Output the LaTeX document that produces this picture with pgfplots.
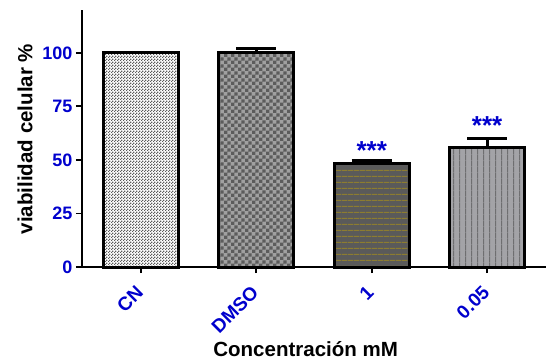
\documentclass[border=0pt]{standalone}
\usepackage{pgfplots}
\pgfplotsset{compat=1.18}
\usepackage{fontspec}
\setmainfont{Liberation Sans}
\usetikzlibrary{patterns}
\definecolor{tickblue}{RGB}{0,0,205}
\definecolor{chkdark}{RGB}{92,92,92}
\definecolor{chklight}{RGB}{160,160,160}
\definecolor{darkfill}{RGB}{90,90,90}
\definecolor{olive1}{RGB}{140,124,48}
\definecolor{lightfill}{RGB}{163,163,167}
\definecolor{vline}{RGB}{110,110,112}
\pgfdeclarepatternformonly{smallchecker}{\pgfpointorigin}{\pgfpoint{2.7pt}{2.7pt}}{\pgfpoint{2.7pt}{2.7pt}}{%
  \pgfpathrectangle{\pgfpointorigin}{\pgfpoint{1.35pt}{1.35pt}}%
  \pgfpathrectangle{\pgfpoint{1.35pt}{1.35pt}}{\pgfpoint{1.35pt}{1.35pt}}%
  \pgfusepath{fill}}
\pgfdeclarepatternformonly{bigchecker}{\pgfpointorigin}{\pgfpoint{6.8pt}{6.8pt}}{\pgfpoint{6.8pt}{6.8pt}}{%
  \pgfpathrectangle{\pgfpointorigin}{\pgfpoint{3.4pt}{3.4pt}}%
  \pgfpathrectangle{\pgfpoint{3.4pt}{3.4pt}}{\pgfpoint{3.4pt}{3.4pt}}%
  \pgfusepath{fill}}
\pgfdeclarepatternformonly{hlinesp}{\pgfpointorigin}{\pgfpoint{5.6pt}{5.6pt}}{\pgfpoint{5.6pt}{5.6pt}}{%
  \pgfpathrectangle{\pgfpointorigin}{\pgfpoint{5.6pt}{1.1pt}}%
  \pgfusepath{fill}}
\pgfdeclarepatternformonly{vlinesp}{\pgfpointorigin}{\pgfpoint{6.3pt}{6.3pt}}{\pgfpoint{6.3pt}{6.3pt}}{%
  \pgfpathrectangle{\pgfpointorigin}{\pgfpoint{1.3pt}{6.3pt}}%
  \pgfusepath{fill}}
\begin{document}
\begin{tikzpicture}
\begin{axis}[
  scale only axis,
  width=464pt, height=257pt,
  xmin=-0.51, xmax=3.51,
  ymin=0, ymax=120,
  axis x line*=bottom, axis y line*=left,
  axis line style={line width=2pt, black},
  ybar,
  bar width=75pt,
  xtick={0,1,2,3},
  xticklabels={CN,DMSO,1,0.05},
  ytick={0,25,50,75,100},
  tick style={line width=1.8pt, black},
  major tick length=6pt,
  tick align=outside,
  /pgf/number format/assume math mode=true,
  yticklabel style={font=\fontsize{18}{18}\selectfont\bfseries, text=tickblue},
  xticklabel style={font=\fontsize{19}{19}\selectfont\bfseries, text=tickblue, xshift=-6pt, yshift=-6.5pt, rotate=45, anchor=north east},
  ylabel={viabilidad celular \%},
  xlabel={Concentración mM},
  label style={font=\fontsize{20.5}{24}\selectfont\bfseries},
  ylabel style={at={(axis description cs:-0.123,0.498)}, anchor=center, rotate=0},
  xlabel style={at={(axis description cs:0.482,-0.319)}, anchor=center},
  clip=false,
  error bars/y dir=plus,
  error bars/y explicit,
  error bars/error mark options={rotate=90, mark size=20pt, line width=3pt, black},
  error bars/error bar style={line width=3pt, black, solid},
]
\addplot[bar shift=0pt, draw=black, line width=3pt, preaction={fill=white}, pattern=smallchecker, pattern color=chkdark]
  coordinates {(0,100)};
\addplot[bar shift=0pt, draw=black, line width=3pt, preaction={fill=chklight}, pattern=bigchecker, pattern color=chkdark]
  coordinates {(1,100) +- (0,2.2)};
\addplot[bar shift=0pt, draw=black, line width=3pt, preaction={fill=darkfill}, pattern=hlinesp, pattern color=olive1]
  coordinates {(2,48.5) +- (0,1.0)};
\addplot[bar shift=0pt, draw=black, line width=3pt, preaction={fill=lightfill}, pattern=vlinesp, pattern color=vline]
  coordinates {(3,55.7) +- (0,4.4)};
\node[anchor=base, text=tickblue, font=\fontsize{26}{26}\selectfont\bfseries] at (axis cs:2,50.3) {***};
\node[anchor=base, text=tickblue, font=\fontsize{26}{26}\selectfont\bfseries] at (axis cs:3,61.7) {***};
\coordinate (O) at (rel axis cs:0,0);
\end{axis}
\pgfresetboundingbox
\path[use as bounding box] ([shift={(-82pt,-95pt)}]O) rectangle ([shift={(464pt,267pt)}]O);
\end{tikzpicture}
\end{document}
